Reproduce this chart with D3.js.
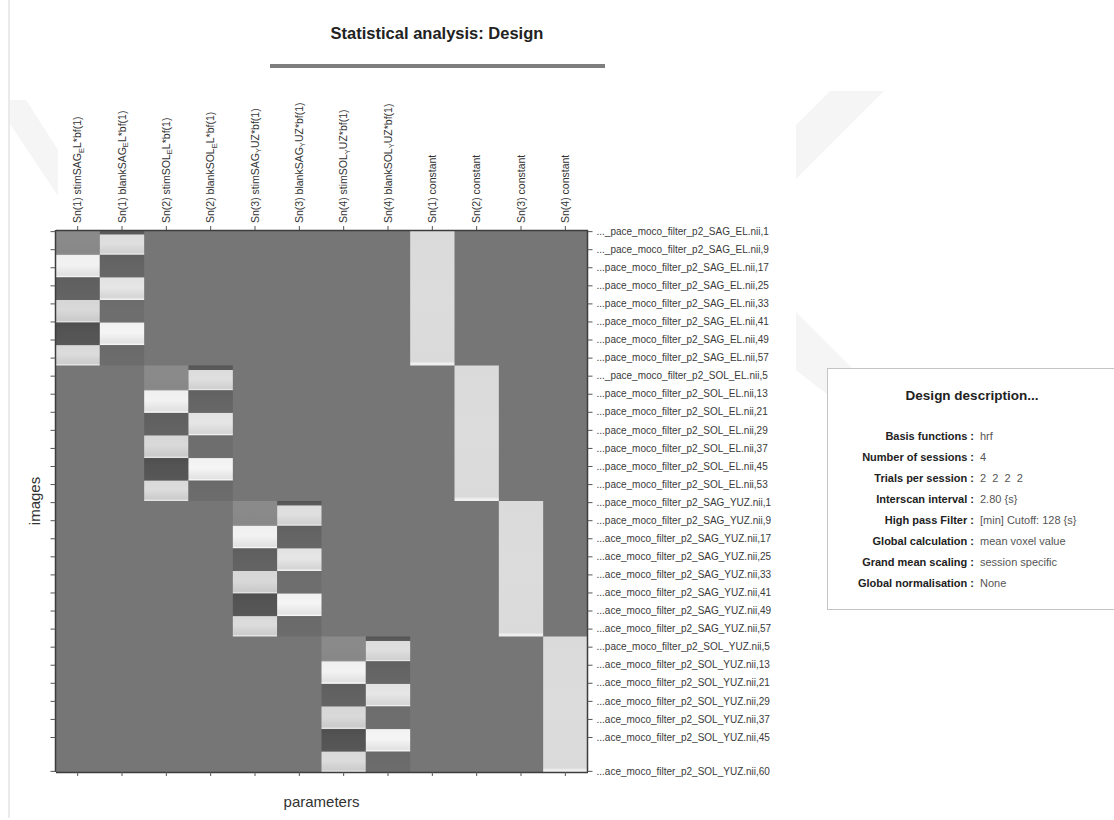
<!DOCTYPE html>
<html>
<head>
<meta charset="utf-8">
<script src="https://cdn.jsdelivr.net/npm/d3@7"></script>
<style>
  html, body { margin: 0; padding: 0; background: #ffffff; }
  svg { display: block; }
  text { font-family: "Liberation Sans", Arial, sans-serif; }
</style>
</head>
<body>
<svg id="chart" width="1114" height="820"></svg>
<script>
// ---------------- DATA ----------------
const chartTitle = "Statistical analysis: Design";
const xAxisTitle = "parameters";
const yAxisTitle = "images";

const sessions = ["Sn(1)", "Sn(2)", "Sn(3)", "Sn(4)"];
const scansPerSession = 60;

const columnLabels = [
  "Sn(1) stimSAG_EL*bf(1)", "Sn(1) blankSAG_EL*bf(1)",
  "Sn(2) stimSOL_EL*bf(1)", "Sn(2) blankSOL_EL*bf(1)",
  "Sn(3) stimSAG_YUZ*bf(1)", "Sn(3) blankSAG_YUZ*bf(1)",
  "Sn(4) stimSOL_YUZ*bf(1)", "Sn(4) blankSOL_YUZ*bf(1)",
  "Sn(1) constant", "Sn(2) constant", "Sn(3) constant", "Sn(4) constant"
];

// block boundaries (scan offsets inside a session) and displayed (scaled) values
const stimEdges  = [0, 11, 21, 31, 41, 51, 60];
const stimValues = [0.16, 0.98, -0.15, 0.78, -0.25, 0.80];
const blankEdges  = [0, 2, 11, 21, 31, 41, 51, 60];
const blankValues = [-0.22, 0.83, -0.13, 0.88, -0.06, 1.00, -0.08];
const constantValue = 0.80;

const imageTickScans = [1, 9, 17, 25, 33, 41, 49, 57, 65, 73, 81, 89, 97, 105, 113,
  121, 129, 137, 145, 153, 161, 169, 177, 185, 193, 201, 209, 217, 225, 240];
const imageTickLabels = [
  "..._pace_moco_filter_p2_SAG_EL.nii,1",
  "..._pace_moco_filter_p2_SAG_EL.nii,9",
  "...pace_moco_filter_p2_SAG_EL.nii,17",
  "...pace_moco_filter_p2_SAG_EL.nii,25",
  "...pace_moco_filter_p2_SAG_EL.nii,33",
  "...pace_moco_filter_p2_SAG_EL.nii,41",
  "...pace_moco_filter_p2_SAG_EL.nii,49",
  "...pace_moco_filter_p2_SAG_EL.nii,57",
  "..._pace_moco_filter_p2_SOL_EL.nii,5",
  "...pace_moco_filter_p2_SOL_EL.nii,13",
  "...pace_moco_filter_p2_SOL_EL.nii,21",
  "...pace_moco_filter_p2_SOL_EL.nii,29",
  "...pace_moco_filter_p2_SOL_EL.nii,37",
  "...pace_moco_filter_p2_SOL_EL.nii,45",
  "...pace_moco_filter_p2_SOL_EL.nii,53",
  "...pace_moco_filter_p2_SAG_YUZ.nii,1",
  "...pace_moco_filter_p2_SAG_YUZ.nii,9",
  "...ace_moco_filter_p2_SAG_YUZ.nii,17",
  "...ace_moco_filter_p2_SAG_YUZ.nii,25",
  "...ace_moco_filter_p2_SAG_YUZ.nii,33",
  "...ace_moco_filter_p2_SAG_YUZ.nii,41",
  "...ace_moco_filter_p2_SAG_YUZ.nii,49",
  "...ace_moco_filter_p2_SAG_YUZ.nii,57",
  "...pace_moco_filter_p2_SOL_YUZ.nii,5",
  "...ace_moco_filter_p2_SOL_YUZ.nii,13",
  "...ace_moco_filter_p2_SOL_YUZ.nii,21",
  "...ace_moco_filter_p2_SOL_YUZ.nii,29",
  "...ace_moco_filter_p2_SOL_YUZ.nii,37",
  "...ace_moco_filter_p2_SOL_YUZ.nii,45",
  "...ace_moco_filter_p2_SOL_YUZ.nii,60"
];

const descTitle = "Design description...";
const descLabels = ["Basis functions :", "Number of sessions :", "Trials per session :",
  "Interscan interval :", "High pass Filter :", "Global calculation :",
  "Grand mean scaling :", "Global normalisation :"];
const descValues = ["hrf", "4", "2  2  2  2", "2.80 {s}", "[min] Cutoff: 128 {s}",
  "mean voxel value", "session specific", "None"];

// ---------------- LAYOUT ----------------
const svg = d3.select("#chart");
const M = { left: 55.5, right: 587.5, top: 230, bottom: 772 };
const totalScans = sessions.length * scansPerSession;

const x = d3.scaleBand().domain(d3.range(columnLabels.length)).range([M.left, M.right]).paddingInner(0).paddingOuter(0);
const y = d3.scaleLinear().domain([0, totalScans]).range([M.top, M.bottom]);
const grey = d3.scaleLinear().domain([-0.93, 0, 1]).range(["#000000", "#767676", "#f5f5f5"]).clamp(true);

// faint watermark shapes + page edge
const wm = svg.append("g").attr("fill", "#f5f5f5");
wm.append("polygon").attr("points", "830,91 884,91 796,179 796,125");
wm.append("polygon").attr("points", "796,312 860,376 860,420 796,370");
wm.append("polygon").attr("points", "10,100 26,100 58,150 58,196 10,124");
svg.append("line").attr("x1", 9).attr("x2", 9).attr("y1", 0).attr("y2", 818)
  .attr("stroke", "#dcdcdc").attr("stroke-width", 1.2);

// title
svg.append("text").attr("x", 437).attr("y", 39).attr("text-anchor", "middle")
  .attr("font-size", 16.5).attr("font-weight", "bold").attr("fill", "#222").text(chartTitle);
svg.append("line").attr("x1", 270).attr("x2", 605).attr("y1", 66).attr("y2", 66)
  .attr("stroke", "#7e7e7e").attr("stroke-width", 4);

// ---------------- MATRIX ----------------
const defs = svg.append("defs");
const mat = svg.append("g");
mat.append("rect").attr("x", M.left).attr("y", M.top)
  .attr("width", M.right - M.left).attr("height", M.bottom - M.top)
  .attr("fill", grey(0));

const blocks = [];
sessions.forEach((s, si) => {
  const base = si * scansPerSession;
  stimValues.forEach((v, bi) => blocks.push({ col: 2 * si, y0: base + stimEdges[bi], y1: base + stimEdges[bi + 1], v }));
  blankValues.forEach((v, bi) => blocks.push({ col: 2 * si + 1, y0: base + blankEdges[bi], y1: base + blankEdges[bi + 1], v }));
  blocks.push({ col: 8 + si, y0: base, y1: base + scansPerSession, v: constantValue, constant: true });
});

blocks.forEach((b, i) => {
  const g = defs.append("linearGradient").attr("id", "g" + i)
    .attr("x1", 0).attr("x2", 0).attr("y1", 0).attr("y2", 1);
  const stops = b.constant
    ? [[0, b.v * 0.98], [0.5, b.v], [0.97, b.v * 0.98], [0.985, 0.95], [1, 0.95]]
    : (b.v > 0
      ? [[0, b.v * 0.97], [0.45, b.v], [0.8, b.v * 0.88], [0.91, b.v * 0.86], [0.95, Math.min(1, b.v * 1.08)], [1, Math.min(1, b.v * 1.08)]]
      : [[0, b.v * 1.25], [0.35, b.v * 1.08], [0.8, b.v], [1, b.v * 0.92]]);
  stops.forEach(([o, v]) => g.append("stop").attr("offset", o).attr("stop-color", grey(v)));
});

mat.selectAll("rect.blk").data(blocks).join("rect").attr("class", "blk")
  .attr("x", d => x(d.col)).attr("width", x.bandwidth())
  .attr("y", d => y(d.y0)).attr("height", d => y(d.y1) - y(d.y0))
  .attr("fill", (d, i) => `url(#g${i})`);

// ---------------- AXES ----------------
const axisColor = "#3c3c3c";
function styleAxis(g) {
  g.select(".domain").attr("stroke", axisColor).attr("stroke-width", 1.5);
  g.selectAll(".tick line").attr("stroke", "#555").attr("stroke-width", 1);
}
const topAxis = svg.append("g").attr("transform", `translate(0,${M.top})`)
  .call(d3.axisTop(x).tickSize(4).tickSizeOuter(0).tickFormat(""));
styleAxis(topAxis);
const bottomAxis = svg.append("g").attr("transform", `translate(0,${M.bottom})`)
  .call(d3.axisBottom(x).tickSize(4).tickSizeOuter(0).tickFormat(""));
styleAxis(bottomAxis);

const yTick = d3.scaleLinear().domain([0.5, totalScans + 0.5]).range([M.top, M.bottom]);
const leftAxis = svg.append("g").attr("transform", `translate(${M.left},0)`)
  .call(d3.axisLeft(yTick).tickValues(imageTickScans).tickSize(5).tickSizeOuter(0).tickFormat(""));
styleAxis(leftAxis);
leftAxis.select(".domain").attr("d", `M0,${M.top}V${M.bottom}`);
const rightAxis = svg.append("g").attr("transform", `translate(${M.right},0)`)
  .call(d3.axisRight(yTick).tickValues(imageTickScans).tickSize(5).tickSizeOuter(0)
    .tickFormat((d, i) => imageTickLabels[i]));
styleAxis(rightAxis);
rightAxis.select(".domain").attr("d", `M0,${M.top}V${M.bottom}`);
rightAxis.selectAll(".tick text").attr("x", 9).attr("font-size", 10)
  .attr("font-family", '"Liberation Sans", Arial, sans-serif').attr("fill", "#3a3a3a");

// column labels (rotated, "_X" rendered as subscript)
const colLab = svg.append("g").attr("font-size", 10.5).attr("fill", "#333");
columnLabels.forEach((lab, i) => {
  const cx = x(i) + x.bandwidth() / 2 + 3.5;
  const t = colLab.append("text")
    .attr("transform", `translate(${cx},${M.top - 7}) rotate(-90)`)
    .attr("text-anchor", "start");
  const m = lab.match(/^(.*)_(.)(.*)$/);
  if (m) {
    t.append("tspan").text(m[1]);
    t.append("tspan").attr("font-size", 7.5).attr("dy", 2.5).text(m[2]);
    t.append("tspan").attr("dy", -2.5).text(m[3]);
  } else {
    t.text(lab);
  }
});

// axis titles
svg.append("text").attr("x", (M.left + M.right) / 2).attr("y", 807).attr("text-anchor", "middle")
  .attr("font-size", 15).attr("fill", "#333").text(xAxisTitle);
svg.append("text").attr("transform", `translate(40,${(M.top + M.bottom) / 2}) rotate(-90)`)
  .attr("text-anchor", "middle").attr("font-size", 15).attr("fill", "#333").text(yAxisTitle);

// ---------------- DESCRIPTION BOX ----------------
const box = svg.append("g");
box.append("rect").attr("x", 827.5).attr("y", 368.5).attr("width", 300).attr("height", 241)
  .attr("fill", "#ffffff").attr("stroke", "#c4c4c4").attr("stroke-width", 1);
box.append("text").attr("x", 972).attr("y", 400).attr("text-anchor", "middle")
  .attr("font-size", 13.5).attr("font-weight", "bold").attr("fill", "#222").text(descTitle);
descLabels.forEach((l, i) => {
  box.append("text").attr("x", 974).attr("y", 440 + 21 * i).attr("text-anchor", "end")
    .attr("font-size", 11).attr("font-weight", "bold").attr("fill", "#222").text(l);
  box.append("text").attr("x", 980).attr("y", 440 + 21 * i).attr("text-anchor", "start")
    .attr("font-size", 11).attr("fill", "#555").attr("xml:space", "preserve")
    .style("white-space", "pre").text(descValues[i]);
});
</script>
</body>
</html>
